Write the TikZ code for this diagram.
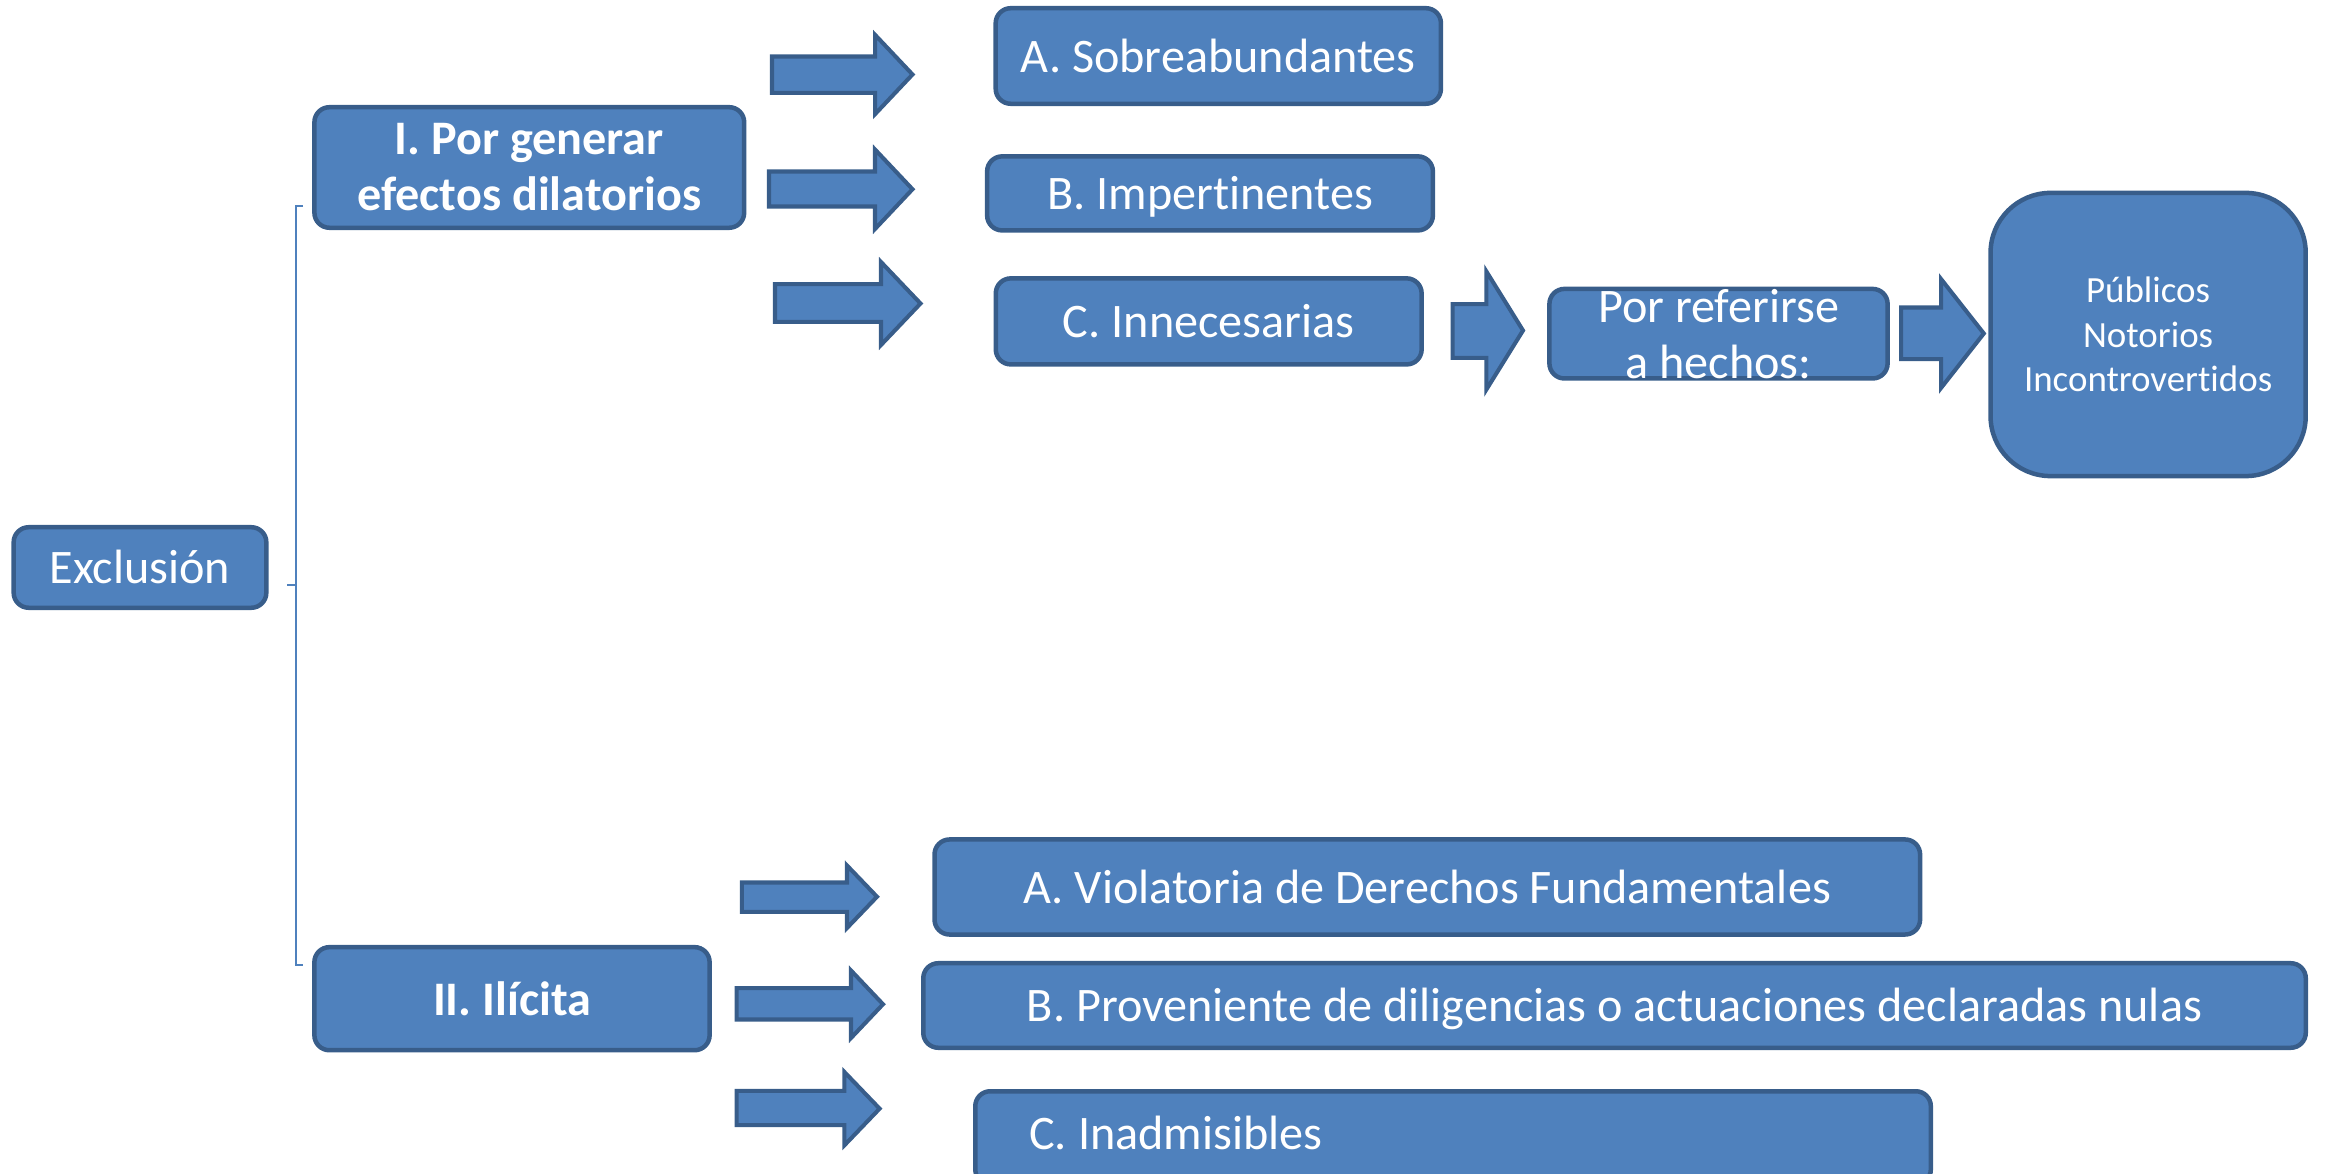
\documentclass[tikz,border=0pt]{standalone}
\usepackage{fontspec}
\setmainfont{Carlito}[Ligatures=NoCommon]
\frenchspacing
\definecolor{fillc}{HTML}{4F81BD}
\definecolor{bdr}{HTML}{385D8A}
\newcommand\mainf{\fontsize{13.7pt}{15.9pt}\selectfont}
\newcommand\smallf{\fontsize{10.5pt}{12.6pt}\selectfont}
\newcommand\blockarr[7]{%
  \draw[barrow] (#1,#6) -- (#2,#6) -- (#2,#4) -- (#3,{(#4+#5)/2}) -- (#2,#5) -- (#2,#7) -- (#1,#7) -- cycle;}
\tikzset{
  box/.style={draw=bdr, fill=fillc, line width=1.28pt, rounded corners=0.15cm,
    text=white, inner sep=0pt, font=\mainf, align=center},
  oneline/.style={text height=12.3pt, text depth=3.0pt},
  barrow/.style={draw=bdr, fill=fillc, line width=1.15pt, line join=miter},
  brk/.style={draw=fillc, line width=0.6pt},
}
\begin{document}
\begin{tikzpicture}[x=0.01cm, y=-0.01cm]
\useasboundingbox (0,0) rectangle (2325,1174);
\begin{scope}
\clip (0,0) rectangle (2325,1174);
% boxes
\node[box, oneline, minimum width=2.525cm, minimum height=0.805cm] (excl) at (140,567.5) {Exclusión};
\node[box, minimum width=4.295cm, minimum height=1.205cm, font=\mainf\bfseries] (pg) at (529.3,167.5) {I. Por generar\\efectos dilatorios};
\node[box, oneline, minimum width=4.45cm, minimum height=0.955cm] (sa) at (1218.3,56) {A. Sobreabundantes};
\node[box, oneline, minimum width=4.455cm, minimum height=0.74cm] (im) at (1210,193.4) {B. Impertinentes};
\node[box, oneline, minimum width=4.256cm, minimum height=0.86cm] (in) at (1208.7,321.4) {C. Innecesarias};
\node[box, minimum width=3.38cm, minimum height=0.895cm] (pr) at (1718.5,333.7) {Por referirse\\a hechos:};
\node[box, minimum width=3.15cm, minimum height=2.83cm, rounded corners=0.6cm, font=\smallf] (pu) at (2148.1,334.5) {Públicos\\Notorios\\Incontrovertidos};
\node[box, oneline, minimum width=3.95cm, minimum height=1.03cm, font=\mainf\bfseries] (il) at (512,998.7) {II. Ilícita};
\node[box, oneline, minimum width=9.85cm, minimum height=0.95cm] (va) at (1427.3,887) {A. Violatoria de Derechos Fundamentales};
\node[box, oneline, minimum width=13.817cm, minimum height=0.845cm] (vb) at (1614.5,1005.5) {B. Proveniente de diligencias o actuaciones declaradas nulas};
\node[box, oneline, text depth=5.6pt, minimum width=9.55cm, minimum height=0.93cm, inner xsep=0.54cm, anchor=north west] (vc) at (973,1089) {\makebox[8.47cm][l]{C. Inadmisibles}};
\end{scope}
% bracket
\coordinate (bt) at (303,206);
\coordinate (btc) at (296,206);
\coordinate (bbc) at (296,965);
\coordinate (bb) at (303,965);
\coordinate (bmc) at (296,585);
\coordinate (bm) at (287,585);
\draw[brk] (bt) -- (btc) -- (bbc) -- (bb);
\draw[brk] (bmc) -- (bm);
% block arrows
\blockarr{772}{875.2}{912.5}{35}{114}{56.5}{92.8}
\blockarr{769}{875}{912.5}{149.5}{229}{171.5}{206.5}
\blockarr{775}{881}{920.5}{262}{345}{284.2}{321.8}
\blockarr{1452.5}{1486.4}{1523}{271.5}{389.5}{304.2}{357.8}
\blockarr{1901}{1941}{1983.8}{279}{388}{307.5}{359.2}
\blockarr{741.8}{847}{877}{865.5}{928}{882.5}{911.8}
\blockarr{736.7}{851}{883}{970.5}{1038}{988.2}{1019.5}
\blockarr{736.7}{844.4}{879.6}{1072}{1145.3}{1090.8}{1125.2}
\end{tikzpicture}
\end{document}
